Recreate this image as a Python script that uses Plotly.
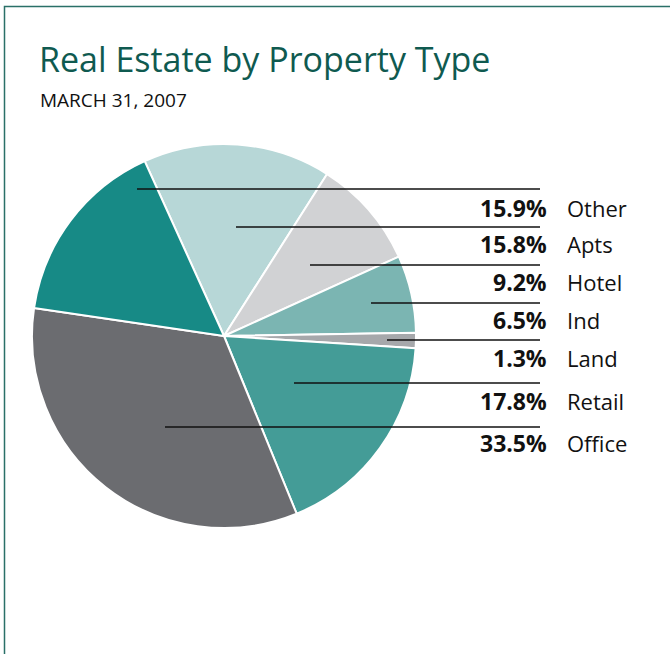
import plotly.graph_objects as go

W, H = 670, 654

# Data (clockwise from first slice)
categories = ["Apts", "Hotel", "Ind", "Land", "Retail", "Office", "Other"]
values = [15.8, 9.2, 6.5, 1.3, 17.8, 33.5, 15.9]
colors = ["#b7d7d7", "#d1d2d4", "#7bb5b2", "#a6a8ab", "#449c97", "#6b6c70", "#178a86"]

# Label order on the right (top to bottom)
label_order = ["Other", "Apts", "Hotel", "Ind", "Land", "Retail", "Office"]
# leader line layout (pixels): start x inside slice, line y, label y
leader_start_x = [137, 236, 310, 371, 387, 294, 165]
leader_y = [189, 227, 265, 303, 340, 383, 427]
label_y = [208, 244, 282, 320, 358, 401, 443]

def px(x):
    return x / W

def py(y):
    return 1 - y / H

cx, cy, r = 224, 336, 192

fig = go.Figure(go.Pie(
    labels=categories,
    values=values,
    marker=dict(colors=colors, line=dict(color="white", width=2)),
    sort=False,
    direction="clockwise",
    rotation=-24.4,
    textinfo="none",
    hoverinfo="label+percent",
    showlegend=False,
    domain=dict(x=[px(cx - r), px(cx + r)], y=[py(cy + r), py(cy - r)]),
))

shapes = []
annotations = []
val_map = dict(zip(categories, values))
for name, sx, ly, ty in zip(label_order, leader_start_x, leader_y, label_y):
    shapes.append(dict(type="line", xref="paper", yref="paper",
                       x0=px(sx), x1=px(540), y0=py(ly), y1=py(ly),
                       line=dict(color="#111111", width=1.3)))
    annotations.append(dict(xref="paper", yref="paper", x=px(549), y=py(ty),
                            xanchor="right", yanchor="middle", showarrow=False,
                            text="<b>%.1f%%</b>" % val_map[name],
                            font=dict(family="Open Sans", size=23, color="#111111")))
    annotations.append(dict(xref="paper", yref="paper", x=px(565), y=py(ty),
                            xanchor="left", yanchor="middle", showarrow=False,
                            text=name,
                            font=dict(family="Open Sans", size=22, color="#111111")))

# Title and subtitle
annotations.append(dict(xref="paper", yref="paper", x=px(37), y=py(59),
                        xanchor="left", yanchor="middle", showarrow=False,
                        text="Real Estate by Property Type",
                        font=dict(family="Open Sans", size=34, color="#0f5a50")))
annotations.append(dict(xref="paper", yref="paper", x=px(38), y=py(100),
                        xanchor="left", yanchor="middle", showarrow=False,
                        text="MARCH 31, 2007",
                        font=dict(family="Open Sans", size=19, color="#111111")))

# Frame
shapes.append(dict(type="rect", xref="paper", yref="paper",
                   x0=px(4.5), x1=px(700), y0=py(6.5), y1=py(700),
                   line=dict(color="#2a7068", width=1.5), fillcolor="rgba(0,0,0,0)"))

fig.update_layout(
    width=W, height=H,
    margin=dict(l=0, r=0, t=0, b=0),
    paper_bgcolor="white",
    plot_bgcolor="white",
    shapes=shapes,
    annotations=annotations,
)

fig.write_html("out.html", config={"displayModeBar": False},
               post_script="document.body.style.margin='0px';")
